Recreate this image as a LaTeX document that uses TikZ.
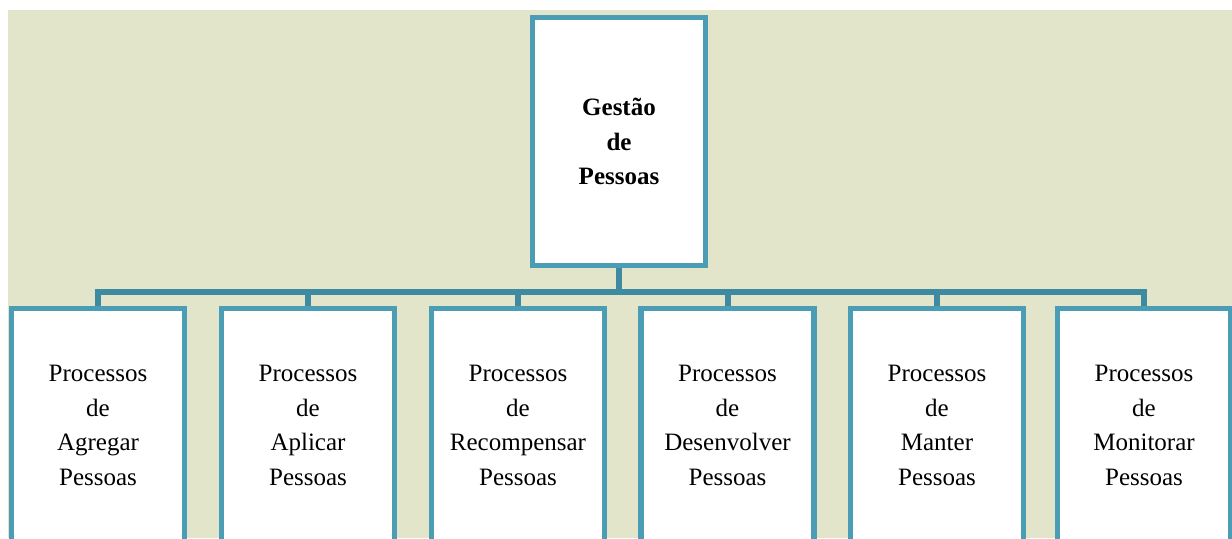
\documentclass[tikz,border=0pt]{standalone}
\usepackage{fontspec}
\setmainfont{Liberation Serif}
\definecolor{bgc}{RGB}{226,229,202}
\definecolor{boxc}{RGB}{74,157,181}
\definecolor{linec}{RGB}{62,138,160}
\begin{document}
\begin{tikzpicture}[x=0.5pt,y=-0.5pt,
  chartbox/.style={draw=boxc,line width=2.6pt,fill=white,inner sep=0pt,
    minimum width=86.5pt,align=center,
    font=\fontsize{12.5pt}{17.25pt}\selectfont},
  lowbox/.style={chartbox,minimum height=117pt},
  conn/.style={draw=linec,line width=3pt,line join=miter}]
\clip (0,0) rectangle (1232,538);
\fill[white] (0,0) rectangle (1232,538);
\fill[bgc] (8,10) rectangle (1232,538);
\node[chartbox,minimum height=124pt,font=\bfseries\fontsize{12.5pt}{17.25pt}\selectfont] (g) at (619,141.5) {Gestão\\de\\Pessoas};
\node[lowbox] (p1) at (98,425.5) {Processos\\de\\Agregar\\Pessoas};
\node[lowbox] (p2) at (308,425.5) {Processos\\de\\Aplicar\\Pessoas};
\node[lowbox] (p3) at (518,425.5) {Processos\\de\\Recompensar\\Pessoas};
\node[lowbox] (p4) at (727.5,425.5) {Processos\\de\\Desenvolver\\Pessoas};
\node[lowbox] (p5) at (937,425.5) {Processos\\de\\Manter\\Pessoas};
\node[lowbox] (p6) at (1144,425.5) {Processos\\de\\Monitorar\\Pessoas};
\coordinate (bar) at (619,292);
\draw[conn] (g.south) -- (bar);
\draw[conn] (p1.north) -- (p1.north|-bar) -- (p6.north|-bar) -- (p6.north);
\foreach \i in {2,3,4,5}{\draw[conn] (p\i.north) -- (p\i.north|-bar);}
\end{tikzpicture}
\end{document}
